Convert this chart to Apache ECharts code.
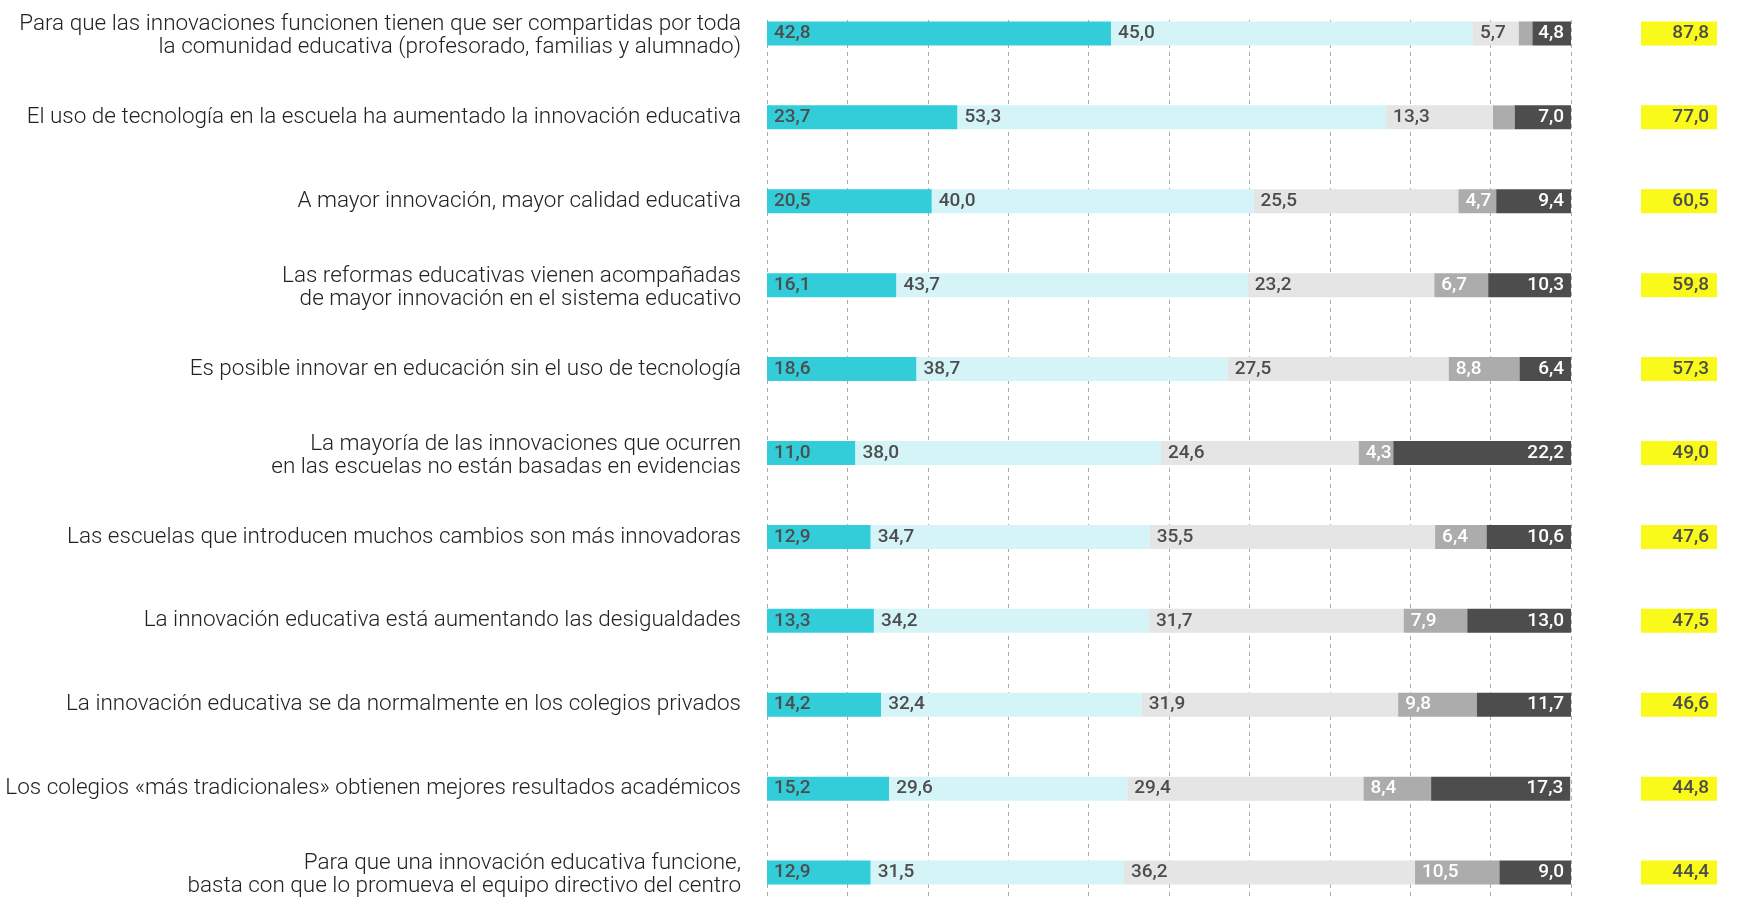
<!DOCTYPE html>
<html>
<head>
<meta charset="utf-8">
<script src="https://cdn.jsdelivr.net/npm/echarts@6/dist/echarts.min.js"></script>
<style>
html,body{margin:0;padding:0;background:#fff;overflow:hidden;width:1755px;height:897px;position:relative;}
#chart{position:absolute;left:0;top:-9px;width:1755px;height:932px;}
</style>
</head>
<body>
<div id="chart"></div>
<script>
const categories = [
  "Para que las innovaciones funcionen tienen que ser compartidas por toda\nla comunidad educativa (profesorado, familias y alumnado)",
  "El uso de tecnología en la escuela ha aumentado la innovación educativa",
  "A mayor innovación, mayor calidad educativa",
  "Las reformas educativas vienen acompañadas\nde mayor innovación en el sistema educativo",
  "Es posible innovar en educación sin el uso de tecnología",
  "La mayoría de las innovaciones que ocurren\nen las escuelas no están basadas en evidencias",
  "Las escuelas que introducen muchos cambios son más innovadoras",
  "La innovación educativa está aumentando las desigualdades",
  "La innovación educativa se da normalmente en los colegios privados",
  "Los colegios «más tradicionales» obtienen mejores resultados académicos",
  "Para que una innovación educativa funcione,\nbasta con que lo promueva el equipo directivo del centro"
];
const muyDeAcuerdo   = [42.8, 23.7, 20.5, 16.1, 18.6, 11.0, 12.9, 13.3, 14.2, 15.2, 12.9];
const deAcuerdo      = [45.0, 53.3, 40.0, 43.7, 38.7, 38.0, 34.7, 34.2, 32.4, 29.6, 31.5];
const enDesacuerdo   = [5.7, 13.3, 25.5, 23.2, 27.5, 24.6, 35.5, 31.7, 31.9, 29.4, 36.2];
const muyDesacuerdo  = [1.7, 2.7, 4.7, 6.7, 8.8, 4.3, 6.4, 7.9, 9.8, 8.4, 10.5];
const nsnc           = [4.8, 7.0, 9.4, 10.3, 6.4, 22.2, 10.6, 13.0, 11.7, 17.3, 9.0];
const totals         = [87.8, 77.0, 60.5, 59.8, 57.3, 49.0, 47.6, 47.5, 46.6, 44.8, 44.4];

const fmt = v => v.toFixed(1).replace('.', ',');
const FONT = 'Roboto';

function seg(name, data, color, textColor, pos) {
  return {
    name: name, type: 'bar', stack: 'total', data: data,
    xAxisIndex: 0, yAxisIndex: 0,
    barWidth: 24,
    itemStyle: { color: color },
    label: {
      show: true, position: pos, distance: 7,
      color: textColor, fontFamily: FONT, fontSize: 19, fontWeight: 500,
      formatter: p => p.value < 3 ? '' : fmt(p.value)
    },
    emphasis: { disabled: true }
  };
}

const chart = echarts.init(document.getElementById('chart'), null, { renderer: 'canvas', width: 1755, height: 932 });
chart.setOption({
  animation: false,
  backgroundColor: '#ffffff',
  grid: [
    { left: 767, right: 184, top: 0.5, height: 923, containLabel: false },
    { left: 767, right: 184, top: 29, bottom: 0, containLabel: false }
  ],
  xAxis: [
    { type: 'value', gridIndex: 0, min: 0, max: 100, interval: 10, show: false },
    { type: 'value', gridIndex: 1, min: 0, max: 100, interval: 10,
      axisLine: { show: false }, axisTick: { show: false }, axisLabel: { show: false },
      splitLine: { show: true, lineStyle: { color: '#aaaaaa', width: 1, type: [4, 4] } } }
  ],
  yAxis: [
    { type: 'category', gridIndex: 0, data: categories, inverse: true,
      axisLine: { show: false }, axisTick: { show: false }, splitLine: { show: false },
      axisLabel: { margin: 26, color: '#222222', fontFamily: FONT, fontWeight: 300,
                   fontSize: 22.5, lineHeight: 23, align: 'right',
                   formatter: v => v.indexOf('\n') >= 0 ? '{s| }\n' + v : v,
                   rich: { s: { fontSize: 1, lineHeight: 5 } } } },
    { type: 'category', gridIndex: 0, data: totals.map(fmt), inverse: true, position: 'right',
      axisLine: { show: false }, axisTick: { show: false }, splitLine: { show: false },
      axisLabel: { margin: 70, formatter: v => '{b|' + v + '}',
        rich: { b: { backgroundColor: '#f9f91a', width: 60, height: 24, lineHeight: 24,
                     padding: [0, 8, 0, 8], align: 'right', color: '#4d4d4d',
                     fontFamily: FONT, fontSize: 19, fontWeight: 500 } } } },
    { type: 'value', gridIndex: 1, min: 0, max: 1, show: false }
  ],
  series: [
    seg('Muy de acuerdo', muyDeAcuerdo, '#32cdd9', '#4d4d4d', 'insideLeft'),
    seg('De acuerdo', deAcuerdo, '#d5f4f7', '#4d4d4d', 'insideLeft'),
    seg('En desacuerdo', enDesacuerdo, '#e5e5e5', '#4d4d4d', 'insideLeft'),
    seg('Muy en desacuerdo', muyDesacuerdo, '#acacac', '#ffffff', 'insideLeft'),
    seg('NS/NC', nsnc, '#4d4d4d', '#ffffff', 'insideRight')
  ]
});
</script>
</body>
</html>
